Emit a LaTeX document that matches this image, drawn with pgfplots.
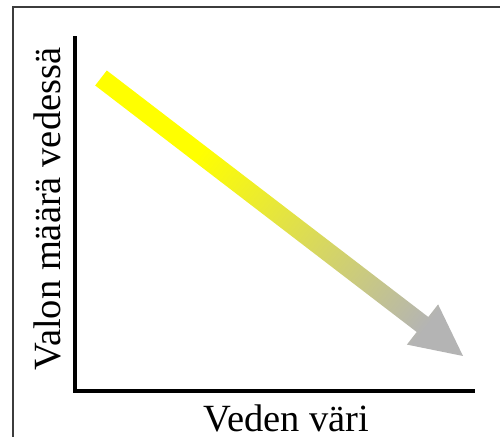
\documentclass[border=0pt]{standalone}
\usepackage{fontspec}
\setmainfont{Liberation Serif}
\usepackage{pgfplots}
\pgfplotsset{compat=1.18}

\definecolor{arrowyellow}{RGB}{255,255,0}
\definecolor{arrowgray}{RGB}{180,180,180}
\definecolor{framegray}{RGB}{60,60,60}

% yellow at the start of the arrow, gray towards the head
\pgfdeclareverticalshading{arrowshade}{100bp}{%
  color(0bp)=(arrowgray); color(22bp)=(arrowgray);
  color(65bp)=(arrowyellow); color(100bp)=(arrowyellow)}

\begin{document}
\begin{tikzpicture}
\begin{axis}[
  width=500bp, height=437bp, scale only axis,
  xmin=0, xmax=500, ymin=0, ymax=437,
  hide axis, clip=false,
]

%% outer frame (cut off at right and bottom)
\addplot[framegray, line width=2bp] coordinates {(13,0) (13,430) (500,430)};

%% axis lines
\addplot[black, line width=3.2bp, line cap=rect] coordinates {(75,399) (75,46) (473,46)};

%% the arrow
\addplot[draw=none, shade, shading=arrowshade, shading angle=52]
  coordinates {
    (106.8,366.5) (428.3,120.0) (438.1,132.6) (463,81)
    (406.9,92.4) (416.7,105.0) (95.2,351.5)
  } -- cycle;

\node[rotate=90, anchor=base, inner sep=0pt,
      font=\fontsize{38.5bp}{40bp}\selectfont]
  at (axis cs:60,228) {Valon määrä vedessä};
\node[anchor=base, inner sep=0pt,
      font=\fontsize{38.5bp}{40bp}\selectfont]
  at (axis cs:286.5,6) {Veden väri};

\end{axis}
\pgfresetboundingbox
\path (0,0) rectangle (500bp,437bp);
\end{tikzpicture}
\end{document}
